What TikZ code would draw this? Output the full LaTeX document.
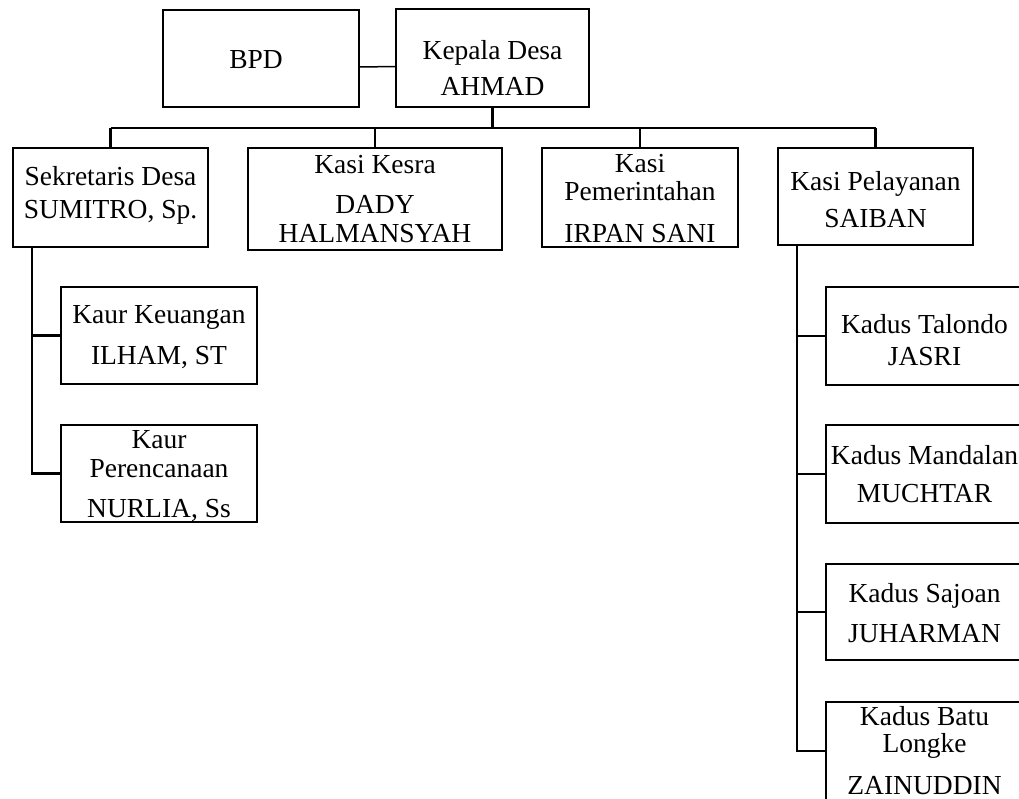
\documentclass[tikz,border=0pt]{standalone}
\usepackage{fontspec}
\setmainfont{Liberation Serif}
\begin{document}
\begin{tikzpicture}[x=1pt,y=-1pt,
  box/.style={draw=black,line width=2.8pt,inner sep=0pt,outer sep=0pt,fill=none},
  txt/.style={anchor=base,inner sep=0pt,font=\fontsize{27.5}{33}\selectfont},
  tree/.style={draw=black,line width=2.8pt},
  thinlink/.style={draw=black,line width=1.5pt}]
\useasboundingbox (0,0) rectangle (1019,798);
\clip (0,0) rectangle (1019,798);
\fill[white] (0,0) rectangle (1019,798);
% boxes
\node[box,minimum width=196pt,minimum height=97pt] (bpd) at (261,58.5) {};
\node[box,minimum width=193pt,minimum height=98pt] (kepala) at (492.5,58) {};
\node[box,minimum width=195pt,minimum height=99pt] (sek) at (110.5,197.5) {};
\node[box,minimum width=254pt,minimum height=102pt] (kesra) at (375,199) {};
\node[box,minimum width=196pt,minimum height=99pt] (pem) at (640,197.5) {};
\node[box,minimum width=195pt,minimum height=97pt] (pel) at (875.5,196.5) {};
\node[box,minimum width=196pt,minimum height=97pt] (keu) at (159,335.5) {};
\node[box,minimum width=196pt,minimum height=97pt] (perenc) at (159,473.5) {};
\node[box,minimum width=197pt,minimum height=98pt] (tal) at (924.5,336) {};
\node[box,minimum width=197pt,minimum height=98pt] (man) at (924.5,474) {};
\node[box,minimum width=197pt,minimum height=96pt] (saj) at (924.5,612) {};
\node[box,minimum width=197pt,minimum height=98pt] (batu) at (924.5,751) {};
% texts
\node[txt] (bpdA) at (256,68) {BPD};
\node[txt] (kepA) at (492.5,59) {Kepala Desa};
\node[txt] (kepB) at (492.5,95) {AHMAD};
\node[txt] (sekA) at (110.5,185) {Sekretaris Desa};
\node[txt] (sekB) at (110.5,218) {SUMITRO, Sp.};
\node[txt] (kesA) at (375,173) {Kasi Kesra};
\node[txt] (kesB) at (375,213) {DADY};
\node[txt] (kesC) at (375,242) {HALMANSYAH};
\node[txt] (pemA) at (640,172) {Kasi};
\node[txt] (pemB) at (640,200) {Pemerintahan};
\node[txt] (pemC) at (640,242) {IRPAN SANI};
\node[txt] (pelA) at (875.5,190) {Kasi Pelayanan};
\node[txt] (pelB) at (875.5,227) {SAIBAN};
\node[txt] (keuA) at (159,323) {Kaur Keuangan};
\node[txt] (keuB) at (159,364) {ILHAM, ST};
\node[txt] (perA) at (159,448) {Kaur};
\node[txt] (perB) at (159,477) {Perencanaan};
\node[txt] (perC) at (159,517) {NURLIA, Ss};
\node[txt] (talA) at (924.5,333) {Kadus Talondo};
\node[txt] (talB) at (924.5,365) {JASRI};
\node[txt] (manA) at (924.5,464) {Kadus Mandalan};
\node[txt] (manB) at (924.5,502) {MUCHTAR};
\node[txt] (sajA) at (924.5,602) {Kadus Sajoan};
\node[txt] (sajB) at (924.5,642) {JUHARMAN};
\node[txt] (batA) at (924.5,725) {Kadus Batu};
\node[txt] (batB) at (924.5,752) {Longke};
\node[txt] (batC) at (924.5,794) {ZAINUDDIN};
% connectors
\draw[thinlink] ([yshift=-8.5pt]bpd.east) -- ([yshift=-8.5pt]kepala.west);
\coordinate (bus) at (0,128);
\draw[tree] (kepala.south) -- (kepala.south |- bus);
\draw[tree] (sek.north |- bus) -- (pel.north |- bus);
\foreach \n in {sek,kesra,pem,pel} \draw[tree] (\n.north) -- (\n.north |- bus);
\coordinate (sekv) at (32,0);
\draw[tree] (sek.south -| sekv) -- (sekv |- perenc.west) -- (perenc.west);
\draw[tree] (sekv |- keu.west) -- (keu.west);
\coordinate (pelv) at (797,0);
\draw[tree] (pel.south -| pelv) -- (pelv |- batu.west) -- (batu.west);
\foreach \n in {tal,man,saj} \draw[tree] (pelv |- \n.west) -- (\n.west);
\end{tikzpicture}
\end{document}
